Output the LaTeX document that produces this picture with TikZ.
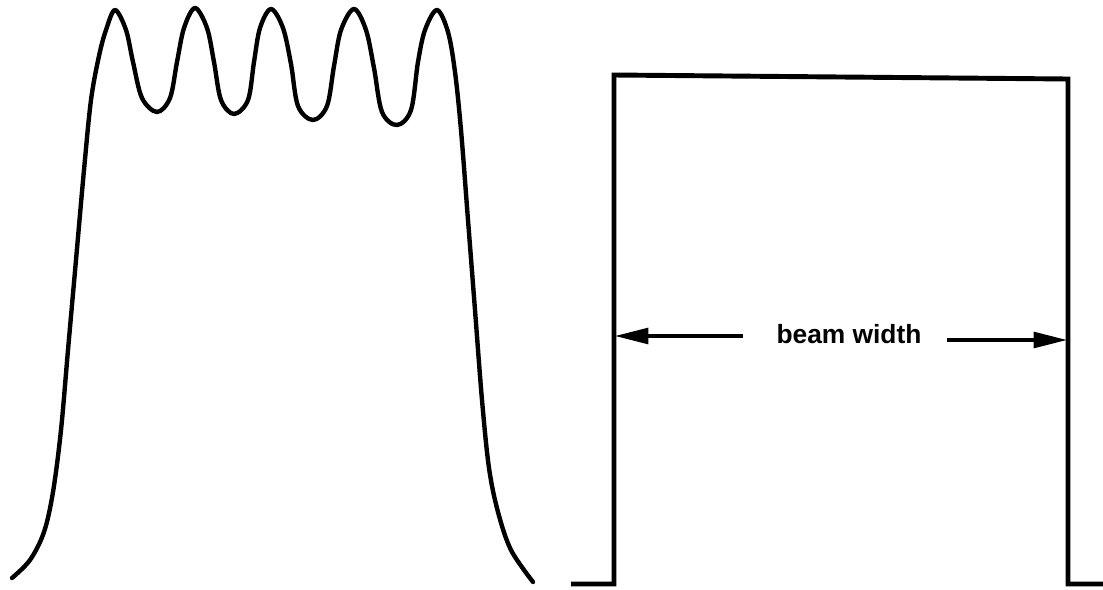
\documentclass[tikz,border=0pt]{standalone}
\usepackage{fontspec}
\setmainfont{Liberation Sans}
\usetikzlibrary{arrows.meta}
\tikzset{
  profile/.style={line width=2.5pt,line join=round,line cap=round},
  stepline/.style={line width=2.8pt,line join=miter},
  dimarrow/.style={line width=1.9pt,-{Triangle[length=19pt,width=9pt]}},
  dimlabel/.style={font=\bfseries\fontsize{15}{18}\selectfont,inner sep=0pt,anchor=base}
}
\begin{document}
\begin{tikzpicture}[x=0.02cm,y=-0.02cm]
\useasboundingbox (0,0) rectangle (1103,589);
\draw[profile] plot[smooth,tension=0.55] coordinates {
(12,578) (30,560) (44,532) (53,492) (61,430) (68,350) (76,260) (84,170)
(91,100) (99,56) (106,30) (115,10)
(126,30) (133,62) (142,98) (157,112) (170,98) (177,62) (184,28) (195,8)
(207,28) (214,62) (221,100) (234,114) (248,100) (254,62) (260,28) (271,9)
(283,28) (291,64) (298,106) (313,120) (327,106) (334,66) (341,30) (354,9)
(366,30) (374,68) (382,112) (397,125) (411,110) (418,62) (425,30) (437,10)
(448,32) (455,72) (461,130) (468,220) (475,310) (482,400) (489,468)
(498,512) (511,550) (533,582)};
\coordinate (sl) at (571,584);
\coordinate (bl) at (614,584);
\coordinate (tl) at (614,75);
\coordinate (tr) at (1068,79);
\coordinate (br) at (1068,584);
\coordinate (sr) at (1103,584);
\draw[stepline] (sl) -- (bl) -- (tl) -- (tr) -- (br) -- (sr);
\node[dimlabel] (bw) at (849,343) {beam width};
\coordinate (la) at (743,336);
\coordinate (lt) at (615,336);
\coordinate (ra) at (947,340);
\coordinate (rt) at (1067,340);
\draw[dimarrow] (la) -- (lt);
\draw[dimarrow] (ra) -- (rt);
\end{tikzpicture}
\end{document}
